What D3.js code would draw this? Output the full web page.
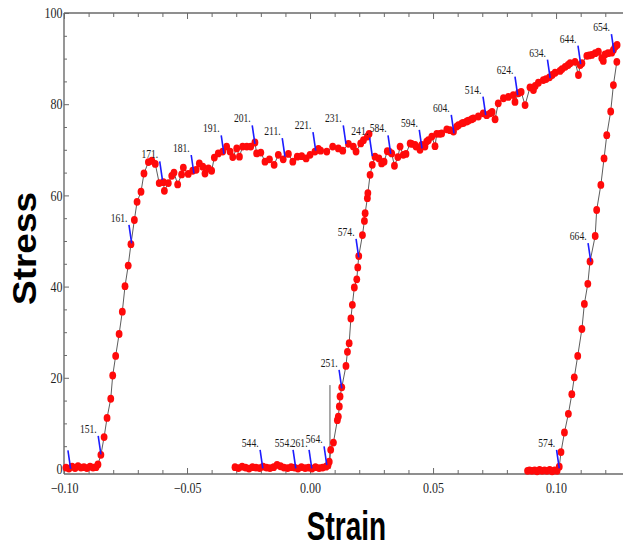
<!DOCTYPE html>
<html>
<head>
<meta charset="utf-8">
<script src="https://cdn.jsdelivr.net/npm/d3@7/dist/d3.min.js"></script>
<style>
  html, body { margin: 0; padding: 0; background: #ffffff; }
  svg { display: block; }
</style>
</head>
<body>
<svg id="chart" width="623" height="549"></svg>
<script>
// ---- Data: strain / stress samples (three traces) ----
const firstStrain = [-0.0992,-0.0980,-0.0967,-0.0955,-0.0943,-0.0931,-0.0919,-0.0907,-0.0894,-0.0882,-0.0870,-0.0862,
  -0.0850,-0.0837,-0.0825,-0.0810,-0.0802,-0.0790,-0.0776,-0.0763,-0.0752,-0.0739,
  -0.0728,-0.0714,-0.0703,-0.0687,-0.0675,-0.0657,-0.0643,-0.0629,-0.0613,-0.0596,
  -0.0592,-0.0576,-0.0562,-0.0553,-0.0538,-0.0522,-0.0515,-0.0495,-0.0477,-0.0463,
  -0.0450,-0.0436,-0.0427,-0.0413,-0.0400,-0.0389,-0.0373,-0.0355,-0.0339,-0.0325,
  -0.0314,-0.0298,-0.0287,-0.0274,-0.0257,-0.0241,-0.0224,-0.0217,-0.0200,-0.0183,
  -0.0165,-0.0146,-0.0129,-0.0109,-0.0088,-0.0070,-0.0052,-0.0034,-0.0016,0.0000,
  0.0020,0.0034,0.0043,0.0068,0.0092,0.0115,0.0133,0.0156,0.0176,0.0187,
  0.0206,0.0217,0.0233,0.0240];
const firstStress = [0.3,0.1,0.5,0.2,0.6,0.3,0.4,0.2,0.5,0.3,0.4,1.0,
  3.1,7.0,11.2,15.4,20.5,24.8,29.6,34.5,40.1,44.6,
  49.3,54.6,58.6,60.8,64.8,67.3,67.6,66.9,62.7,62.9,
  61.0,62.7,64.3,65.0,62.4,64.6,66.1,64.7,65.4,65.6,
  67.0,66.3,64.8,65.9,65.4,68.3,69.2,69.6,70.7,69.6,
  68.4,70.3,68.5,70.7,70.7,70.7,71.6,69.2,69.4,67.4,
  67.9,66.7,68.9,67.9,69.1,67.4,68.5,68.6,68.1,68.9,
  69.6,70.2,69.8,69.6,70.7,70.3,69.8,71.3,70.7,69.6,
  71.4,72.1,72.9,73.5];

const secondStrain = [-0.0305,-0.0291,-0.0276,-0.0262,-0.0248,-0.0234,-0.0220,-0.0205,-0.0191,-0.0177,
  -0.0163,-0.0148,-0.0134,-0.0120,-0.0106,-0.0091,-0.0077,-0.0063,-0.0049,-0.0035,
  -0.0020,-0.0006,0.0008,0.0022,0.0037,0.0051,0.0065,0.0073,
  0.0078,0.0084,0.0095,0.0111,0.0115,0.0119,0.0122,0.0129,0.0146,0.0152,
  0.0159,0.0166,0.0172,0.0180,0.0190,0.0194,0.0198,0.0213,0.0221,0.0224,
  0.0233,0.0235,0.0244,0.0253,0.0264,
  0.0280,0.0291,0.0301,0.0314,0.0322,0.0332,0.0343,0.0357,0.0366,0.0379,
  0.0390,0.0407,0.0413,0.0427,0.0431,0.0447,0.0454,0.0467,0.0474,0.0481,
  0.0495,0.0508,0.0515,0.0528,0.0535,0.0556,0.0569,0.0583,0.0596,0.0603,
  0.0617,0.0623,0.0637,0.0644,0.0657,0.0664,0.0684,0.0704,0.0718,0.0732,
  0.0740,0.0752,0.0765,0.0786,0.0806,0.0826,0.0833,0.0847,0.0858,0.0874,
  0.0894,0.0908,0.0915,0.0928,0.0948,0.0959,0.0973,0.0984,0.0996,0.1016,
  0.1024,0.1037,0.1049,0.1057,0.1077,0.1091,0.1098,0.1105,0.1125,0.1134,
  0.1145,0.1159,0.1172,0.1186,0.1192,0.1199,0.1211,0.1226,0.1233,0.1240,
  0.1248];
const secondStress = [0.4,0.2,0.5,0.3,0.1,0.4,0.3,0.2,0.5,0.3,
  0.2,0.4,0.9,0.6,0.3,0.2,0.4,0.3,0.1,0.4,
  0.2,0.3,0.1,0.4,0.2,0.3,0.5,0.8,
  1.6,4.2,5.8,10.7,11.5,13.7,15.9,17.9,22.6,25.7,
  27.6,33.0,36.0,39.8,41.6,44.2,46.7,51.3,54.4,56.1,
  59.4,60.5,64.5,66.7,68.5,
  68.1,67.0,67.4,69.7,69.6,69.2,66.5,68.4,70.7,68.9,
  69.1,71.4,71.3,71.1,70.7,70.0,71.1,70.7,71.8,72.1,
  72.9,70.8,73.5,73.5,73.6,74.5,74.3,74.0,75.1,75.4,
  75.8,75.9,76.2,76.4,76.7,76.9,77.3,78.0,77.6,78.0,
  78.3,76.7,80.2,81.3,81.6,82.0,80.5,82.4,82.7,79.8,
  83.7,83.1,84.0,84.7,85.3,85.5,85.9,86.4,86.9,87.3,
  87.7,88.2,88.6,89.0,89.3,86.4,88.6,89.0,90.6,90.7,
  90.8,91.2,91.5,90.1,89.5,90.9,91.2,91.3,91.9,92.6,
  93.0];

const unloadStrain = [0.1247,0.1233,0.1222,0.1206,0.1195,0.1182,0.1165,0.1159,0.1138,0.1129,
  0.1115,0.1105,0.1088,0.1074,0.1064,0.1050,0.1034,0.1020,0.1013,
  0.1004,0.0994,0.0984,0.0974,0.0963,0.0953,0.0943,0.0933,0.0923,0.0913,0.0902,0.0892,0.0884];
const unloadStress = [89.3,84.2,78.4,73.2,68.1,62.3,56.8,51.1,45.5,40.6,
  36.2,30.7,24.8,20.1,16.4,12.1,8.0,3.7,0.5,
  -0.4,-0.3,-0.5,-0.2,-0.4,-0.3,-0.4,-0.2,-0.5,-0.3,-0.4,-0.3,-0.4];

// connector-only segment (no marker) where the trace jumps
const jumpStrain = [0.0081, 0.0081];
const jumpStress = [0, 18.4];

// point-index callouts
const calloutLabels = ["", "151.", "161.", "171.", "181.", "191.", "201.", "211.", "221.", "231.",
  "241.", "251.", "261.", "544.", "554.", "564.", "574.", "584.", "594.", "604.",
  "514.", "624.", "634.", "644.", "654.", "664.", "574."];
const calloutStrain = [-0.0973, -0.0850, -0.0725, -0.0600, -0.0472, -0.0350, -0.0224, -0.0102, 0.0023, 0.0146,
  0.0253, 0.0129, 0.0007, -0.0192, -0.0058, 0.0068, 0.0198, 0.0328, 0.0455, 0.0585,
  0.0714, 0.0844, 0.0976, 0.1100, 0.1236, 0.1141, 0.1013];
const calloutStress = [0, 3.2, 49.5, 63.4, 64.8, 69.1, 71.3, 68.5, 69.8, 71.3,
  68.6, 17.7, 0.15, 0.15, 0.15, 0.9, 46.4, 69.1, 70.3, 73.6,
  77.6, 82.0, 85.7, 88.8, 91.3, 45.5, 0.15];

// ticks
const xMajorTicks = [-0.10, -0.05, 0.00, 0.05, 0.10];
const xMinorTicks = [-0.09,-0.08,-0.07,-0.06,-0.04,-0.03,-0.02,-0.01,0.01,0.02,0.03,0.04,0.06,0.07,0.08,0.09,0.11,0.12];
const yMajorTicks = [0, 20, 40, 60, 80, 100];
const yMinorTicks = [5,10,15,25,30,35,45,50,55,65,70,75,85,90,95];

const xTitle = "Strain";
const yTitle = "Stress";

// ---- Layout ----
const svg = d3.select("#chart");
const plotLeft = 64, plotRight = 623, plotTop = 13, plotBottom = 474;

const x = d3.scaleLinear().domain([-0.1, 0.1272]).range([plotLeft, plotRight]);
const y = d3.scaleLinear().domain([-1.1, 100]).range([plotBottom, plotTop]);

const serif = "'Liberation Serif', 'Times New Roman', Times, serif";
const sans = "'Liberation Sans', Arial, Helvetica, sans-serif";
const frameColor = "#6a6a6a";

const zip = (a, b) => a.map((v, i) => [v, b[i]]);
const traces = [
  zip(firstStrain, firstStress),
  zip(secondStrain, secondStress),
  zip(unloadStrain, unloadStress)
];

// ---- Frame & axes ----
const fmtX = v => (v < 0 ? "\u2212" : "") + Math.abs(v).toFixed(2);

function styleAxis(g) {
  g.select(".domain").remove();
  g.selectAll(".tick line").attr("stroke", frameColor).attr("stroke-width", 1);
}

// bottom
const gxMinor = svg.append("g").attr("transform", `translate(0,${plotBottom})`)
  .call(d3.axisBottom(x).tickValues(xMinorTicks).tickFormat("").tickSize(-4));
styleAxis(gxMinor);
const gx = svg.append("g").attr("transform", `translate(0,${plotBottom})`)
  .call(d3.axisBottom(x).tickValues(xMajorTicks).tickFormat(fmtX).tickSize(-6));
styleAxis(gx);
gx.selectAll(".tick text")
  .attr("y", 0).attr("dy", null)
  .attr("transform", "translate(0,18.5) scale(1,1.22)")
  .attr("fill", "#1e1e1e")
  .style("font-family", serif).style("font-size", "12px");

// top
const gtMinor = svg.append("g").attr("transform", `translate(0,${plotTop})`)
  .call(d3.axisTop(x).tickValues(xMinorTicks).tickFormat("").tickSize(-4));
styleAxis(gtMinor);
const gt = svg.append("g").attr("transform", `translate(0,${plotTop})`)
  .call(d3.axisTop(x).tickValues(xMajorTicks).tickFormat("").tickSize(-6));
styleAxis(gt);

// left
const gyMinor = svg.append("g").attr("transform", `translate(${plotLeft},0)`)
  .call(d3.axisLeft(y).tickValues(yMinorTicks).tickFormat("").tickSize(-3));
styleAxis(gyMinor);
const gy = svg.append("g").attr("transform", `translate(${plotLeft},0)`)
  .call(d3.axisLeft(y).tickValues(yMajorTicks).tickFormat(d3.format("d")).tickSize(-5));
styleAxis(gy);
gy.selectAll(".tick text")
  .attr("x", 0).attr("dy", null).attr("y", 0)
  .attr("text-anchor", "end")
  .attr("transform", "translate(-1.5,4.8) scale(1,1.22)")
  .attr("fill", "#1e1e1e")
  .style("font-family", serif).style("font-size", "12px");

// frame lines
svg.append("g").attr("fill", "none").attr("stroke", frameColor).attr("stroke-width", 1.4)
  .selectAll("line")
  .data([[plotLeft, plotTop, plotLeft, plotBottom], [plotLeft, plotBottom, plotRight + 2, plotBottom], [plotLeft, plotTop, plotRight + 2, plotTop]])
  .join("line")
  .attr("x1", d => d[0]).attr("y1", d => d[1]).attr("x2", d => d[2]).attr("y2", d => d[3]);

// ---- Traces ----
const line = d3.line().x(d => x(d[0])).y(d => y(d[1]));
const plot = svg.append("g");

plot.selectAll("path.trace")
  .data(traces)
  .join("path")
  .attr("class", "trace")
  .attr("d", line)
  .attr("fill", "none")
  .attr("stroke", "#4a4a4a")
  .attr("stroke-width", 0.9);

plot.append("path")
  .attr("d", line(zip(jumpStrain, jumpStress)))
  .attr("fill", "none")
  .attr("stroke", "#5a5a5a")
  .attr("stroke-width", 1);

plot.selectAll("g.pts")
  .data(traces)
  .join("g")
  .attr("class", "pts")
  .selectAll("ellipse")
  .data(d => d)
  .join("ellipse")
  .attr("cx", d => x(d[0]))
  .attr("cy", d => y(d[1]))
  .attr("rx", 3.4)
  .attr("ry", 3.9)
  .attr("fill", "#ff0a0a");

// ---- Callouts ----
const callouts = calloutLabels.map((t, i) => ({ text: t, sx: calloutStrain[i], sy: calloutStress[i] }));
const cg = svg.append("g");
cg.selectAll("line")
  .data(callouts)
  .join("line")
  .attr("x1", d => x(d.sx) - 2.7)
  .attr("y1", d => y(d.sy) - 18.5)
  .attr("x2", d => x(d.sx))
  .attr("y2", d => y(d.sy))
  .attr("stroke", "#1c1cff")
  .attr("stroke-width", 1.6);

cg.selectAll("text")
  .data(callouts)
  .join("text")
  .attr("text-anchor", "end")
  .attr("transform", d => `translate(${x(d.sx) - 4.2},${y(d.sy) - 21.5}) scale(1,1.4)`)
  .attr("fill", "#1a1a1a")
  .style("font-family", serif)
  .style("font-size", "9.6px")
  .text(d => d.text);

// ---- Axis titles ----
svg.append("text")
  .attr("text-anchor", "middle")
  .attr("transform", "translate(346.5,540) scale(1,1.42)")
  .style("font-family", sans)
  .style("font-weight", "bold")
  .style("font-size", "28px")
  .attr("fill", "#000")
  .text(xTitle);

svg.append("text")
  .attr("text-anchor", "middle")
  .attr("transform", "translate(36,248.5) scale(1,1.12) rotate(-90)")
  .style("font-family", sans)
  .style("font-weight", "bold")
  .style("font-size", "33px")
  .attr("fill", "#000")
  .text(yTitle);
</script>
</body>
</html>
